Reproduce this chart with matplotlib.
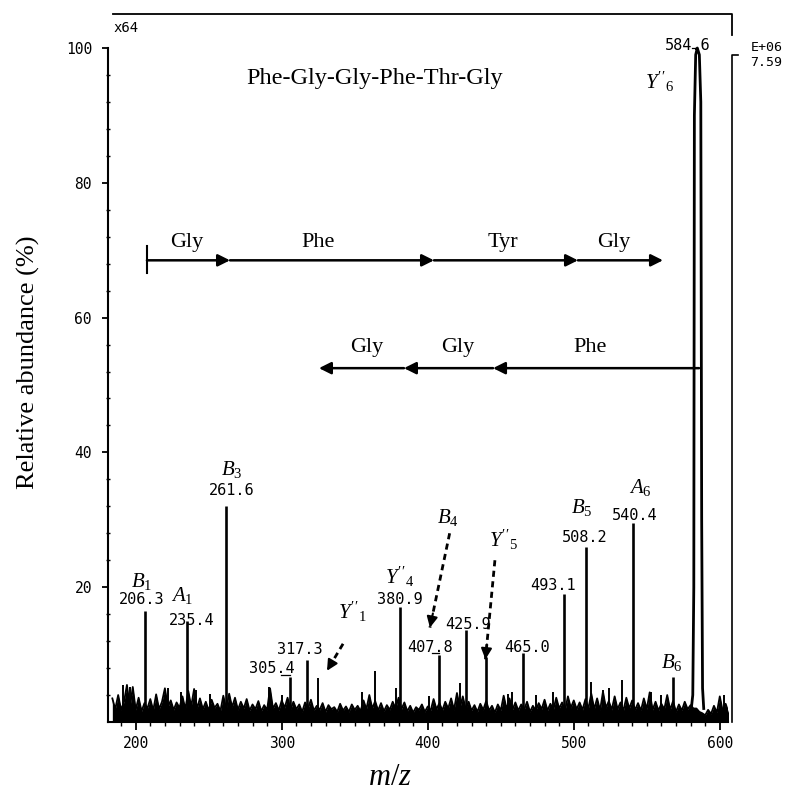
import numpy as np
import matplotlib
matplotlib.use("Agg")
import matplotlib.pyplot as plt

# fonts
plt.rcParams["font.family"] = ["Liberation Serif", "DejaVu Serif"]
plt.rcParams["mathtext.fontset"] = "custom"
plt.rcParams["mathtext.it"] = "Liberation Serif:italic"
plt.rcParams["mathtext.rm"] = "Liberation Serif"
MONO = "DejaVu Sans Mono"

# labelled peaks (m/z, relative abundance %)
peak_mz = [206.3, 235.4, 261.6, 305.4, 317.3, 380.9, 407.8, 425.9, 440.0,
           465.0, 493.1, 508.2, 540.4, 568.0]
peak_h = [16.5, 15.0, 32.0, 6.7, 9.2, 17.0, 10.0, 13.6, 9.6,
          10.2, 19.0, 26.0, 29.5, 6.7]

# small unlabelled peaks sticking out of the noise
minor_mz = [191, 196, 222, 231, 241, 251, 291, 300, 325, 355, 364, 378, 401,
            422, 455, 458, 474, 486, 512, 520, 524, 533, 553, 560, 603]
minor_h = [5.5, 5.2, 5.0, 4.5, 4.8, 4.2, 5.2, 4.0, 6.5, 4.5, 7.5, 5.0, 3.8,
           5.8, 4.2, 4.5, 4.0, 4.5, 6.0, 4.8, 5.0, 6.2, 4.5, 4.0, 4.0]

# base peak profile (MH+ 584.6), drawn as an outline
base_mz = [580.5, 581.5, 582.2, 582.6, 583.5, 584.6, 586.0, 587.0, 587.6, 588.2, 589.0]
base_h = [2.0, 4.0, 20.0, 90.0, 99.0, 100.0, 99.0, 92.0, 30.0, 5.0, 2.0]

# baseline noise, every 2 m/z from 184 to 606
noise_h = [
    3.5, 1.9, 4.0, 1.8, 3.0, 5.5, 2.1, 5.2, 1.8, 3.6, 1.6, 2.8, 2.0, 3.4, 1.7, 4.1, 1.9, 3.0, 5.0, 2.2,
    3.2, 1.8, 2.9, 2.1, 3.8, 1.9, 4.6, 2.3, 4.9, 2.0, 3.5, 1.9, 3.0, 1.7, 3.3, 2.1, 2.7, 1.6, 3.9, 1.9,
    4.2, 2.2, 3.6, 1.8, 3.0, 2.0, 3.4, 1.7, 2.6, 1.9, 3.1, 1.6, 2.5, 1.8, 5.0, 2.0, 2.8, 1.7, 3.2, 2.1,
    3.6, 1.8, 3.0, 1.9, 2.6, 1.5, 2.9, 2.0, 3.3, 1.7, 2.4, 1.8, 2.8, 1.5, 2.5, 1.9, 2.2, 1.5, 2.7, 1.7,
    2.3, 1.5, 2.6, 1.8, 2.4, 1.6, 3.2, 1.9, 4.0, 2.0, 3.1, 1.7, 2.8, 1.6, 2.5, 1.8, 3.0, 2.0, 3.6, 1.9,
    2.9, 1.6, 2.4, 1.4, 2.2, 1.8, 2.6, 1.5, 2.3, 1.7, 3.4, 1.9, 2.8, 1.7, 3.0, 2.0, 3.5, 1.8, 4.3, 2.1,
    3.8, 1.9, 3.0, 1.7, 2.5, 1.5, 2.7, 1.8, 3.1, 1.7, 2.4, 1.4, 2.6, 1.7, 3.9, 1.9, 3.5, 1.8, 2.9, 1.7,
    2.6, 1.8, 3.0, 1.5, 2.4, 1.7, 2.8, 1.9, 3.3, 1.7, 2.7, 1.8, 3.6, 2.0, 2.9, 1.7, 3.8, 2.1, 3.2, 1.9,
    2.9, 1.8, 3.4, 2.0, 4.2, 1.9, 3.5, 1.7, 4.5, 2.1, 3.1, 1.8, 3.8, 1.9, 2.9, 1.7, 3.6, 2.0, 3.2, 1.8,
    2.8, 1.7, 3.5, 1.9, 4.4, 1.8, 3.0, 1.7, 2.7, 1.9, 4.0, 1.8, 3.1, 1.5, 2.6, 1.7, 3.0, 1.9, 2.5, 2.0,
    2.0, 1.5, 1.3, 1.0, 1.8, 1.2, 2.4, 1.4, 3.8, 1.6, 2.7, 1.4,
]
noise_mz = np.arange(184, 607, 2)

# sequence ladders: b-series (left to right) and y-series (right to left)
b_ladder = [207.7, 264.6, 404.3, 502.9, 561.1]
b_names = ["Gly", "Phe", "Tyr", "Gly"]
b_name_mz = [235.1, 324.8, 451.5, 527.6]
y_ladder = [585.8, 444.7, 383.7, 325.5]
y_names = ["Phe", "Gly", "Gly"]
y_name_mz = [511.1, 420.7, 358.4]

# number labels: text, x, y
num_labels = [("206.3", 204.0, 18.1), ("235.4", 238.5, 15.1), ("261.6", 266.0, 34.4),
              ("305.4", 293.3, 8.0), ("317.3", 312.5, 10.7), ("380.9", 381.0, 18.1),
              ("407.8", 401.5, 11.1), ("425.9", 427.6, 14.5), ("465.0", 468.0, 11.1),
              ("493.1", 485.8, 20.3), ("508.2", 507.7, 27.4), ("540.4", 542.0, 30.7),
              ("584.6", 578.3, 100.4)]
# ion labels: text, x, y
ion_labels = [(r"$B_1$", 204.0, 20.8), (r"$A_1$", 231.7, 18.8), (r"$B_3$", 266.0, 37.4),
              (r"$Y''_4$", 381.0, 21.6), (r"$B_5$", 505.7, 31.8), (r"$A_6$", 545.4, 34.8),
              (r"$B_6$", 567.3, 8.9), (r"$Y''_6$", 559.0, 95.0),
              (r"$Y''_1$", 348.1, 16.3), (r"$B_4$", 414.0, 30.4), (r"$Y''_5$", 451.5, 27.0)]
# dashed pointers: tail (x, y) -> head (x, y)
pointers = [((342.0, 11.6), (331.0, 7.6)), ((415.0, 28.0), (401.5, 14.0)),
            ((446.0, 24.0), (439.5, 9.3))]

fig = plt.figure(figsize=(7.88, 7.94), dpi=100)
ax = fig.add_axes([0.137, 0.0907, 0.787, 0.8955])

# spectrum
ax.fill_between(noise_mz, 0, noise_h, color="black", lw=0)
ax.plot(noise_mz, noise_h, color="black", lw=1.3)
ax.vlines(minor_mz, 0, minor_h, color="black", lw=1.4)
ax.vlines(peak_mz, 0, peak_h, color="black", lw=1.9)
ax.plot(base_mz, base_h, color="black", lw=2.0)

# connectors under some numbers
ax.plot([299.5, 305.4], [6.9, 6.9], color="black", lw=0.9)
ax.plot([403.0, 407.8], [10.2, 10.2], color="black", lw=0.9)
ax.plot([581.0, 584.6], [100.0, 100.0], color="black", lw=0.9)

for txt, x, y in num_labels:
    ax.text(x, y, txt, family=MONO, fontsize=11, ha="center", va="center")
for txt, x, y in ion_labels:
    ax.text(x, y, txt, fontsize=15, ha="center", va="center")

for (x0, y0), (x1, y1) in pointers:
    ax.plot([x0, x1], [y0, y1], color="black", lw=2.0, ls=(0, (2.2, 1.6)))
    dx, dy = x1 - x0, y1 - y0
    ax.annotate("", xy=(x1, y1), xytext=(x1 - 0.15 * dx, y1 - 0.15 * dy),
                arrowprops=dict(arrowstyle="-|>", color="black", lw=1.5,
                                mutation_scale=16, shrinkA=0, shrinkB=0))

# ladders
row_b, row_y = 68.5, 52.5
for i in range(len(b_ladder) - 1):
    ax.annotate("", xy=(b_ladder[i + 1], row_b), xytext=(b_ladder[i], row_b),
                arrowprops=dict(arrowstyle="-|>", color="black", lw=1.8,
                                mutation_scale=18, shrinkA=0, shrinkB=0))
ax.plot([b_ladder[0], b_ladder[0]], [66.6, 70.6], color="black", lw=1.5)
for name, x in zip(b_names, b_name_mz):
    ax.text(x, row_b + 2.7, name, fontsize=16, ha="center", va="center")
for i in range(len(y_ladder) - 1):
    ax.annotate("", xy=(y_ladder[i + 1], row_y), xytext=(y_ladder[i], row_y),
                arrowprops=dict(arrowstyle="-|>", color="black", lw=1.8,
                                mutation_scale=18, shrinkA=0, shrinkB=0))
for name, x in zip(y_names, y_name_mz):
    ax.text(x, row_y + 3.1, name, fontsize=16, ha="center", va="center")

ax.text(363.9, 95.5, "Phe-Gly-Gly-Phe-Thr-Gly", fontsize=17.5, ha="center", va="center")

# frame extras of the instrument printout
ax.plot([184.4, 608.4, 608.4], [105.0, 105.0, 102.0], color="black", lw=1.3, clip_on=False)
ax.plot([612.5, 608.4, 608.4], [99.0, 99.0, 0.0], color="black", lw=1.2, clip_on=False)
ax.text(185.0, 103.0, "x64", family=MONO, fontsize=10, ha="left", va="center")
ax.text(621.0, 100.1, "E+06", family=MONO, fontsize=9.5, ha="left", va="center", clip_on=False)
ax.text(621.0, 97.9, "7.59", family=MONO, fontsize=9.5, ha="left", va="center", clip_on=False)

ax.set_xlim(181, 605.7)
ax.set_ylim(0, 105.5)
ax.set_xticks([200, 300, 400, 500, 600])
ax.set_xticks(np.arange(190, 606, 10), minor=True)
ax.set_yticks([20, 40, 60, 80, 100])
ax.set_yticks(np.arange(4, 101, 4), minor=True)
for s in ["top", "right"]:
    ax.spines[s].set_visible(False)
for s in ["left", "bottom"]:
    ax.spines[s].set_linewidth(1.5)
ax.spines["left"].set_bounds(0, 100)
ax.tick_params(axis="x", which="major", direction="out", length=6, width=1.3, pad=4)
ax.tick_params(axis="x", which="minor", direction="out", length=3, width=1.0)
ax.tick_params(axis="y", which="major", direction="out", length=4.5, width=1.3, pad=7)
ax.tick_params(axis="y", which="minor", direction="inout", length=3, width=1.0)
for lab in ax.get_xticklabels() + ax.get_yticklabels():
    lab.set_family(MONO)
    lab.set_fontsize(10.5)

ax.set_ylabel("Relative abundance (%)", fontsize=19)
ax.yaxis.set_label_coords(-0.11, 0.506)
ax.set_xlabel("$m/z$", fontsize=22)
ax.xaxis.set_label_coords(0.455, -0.058)

fig.savefig("out.png", dpi=100)
